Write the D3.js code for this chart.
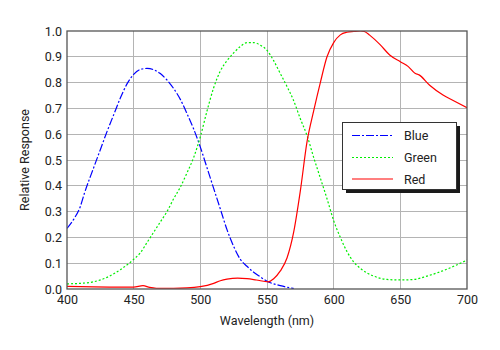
<!DOCTYPE html>
<html><head><meta charset="utf-8">
<script src="https://cdn.jsdelivr.net/npm/d3@7"></script>
<style>body{margin:0;background:#fff}svg{display:block;font-family:Roboto,"Liberation Sans",sans-serif}</style>
</head><body><svg id="c" width="500" height="350"></svg>
<script>
const xTicks = [400,450,500,550,600,650,700];
const yTicks = [0.0,0.1,0.2,0.3,0.4,0.5,0.6,0.7,0.8,0.9,1.0];
const blueWl = [400,405,410,413,420,425,430,435,440,445,450,455,460,465,470,475,480,485,490,495,500,505,510,515,520,525,530,535,540,545,550,555,560,565,570];
const blueVal = [0.235,0.27,0.32,0.37,0.47,0.54,0.61,0.675,0.74,0.795,0.832,0.851,0.855,0.85,0.835,0.81,0.777,0.735,0.68,0.62,0.55,0.47,0.39,0.31,0.23,0.165,0.115,0.088,0.065,0.047,0.03,0.02,0.013,0.007,0.002];
const greenWl = [400,410,420,430,440,450,455,460,465,470,475,480,485,490,495,500,505,510,515,520,525,530,535,540,545,550,555,560,565,570,575,580,585,590,595,600,605,610,615,620,630,640,650,660,670,680,690,700];
const greenVal = [0.02,0.022,0.028,0.045,0.075,0.115,0.14,0.18,0.22,0.26,0.3,0.35,0.395,0.45,0.51,0.59,0.69,0.78,0.845,0.885,0.915,0.94,0.955,0.955,0.945,0.925,0.885,0.835,0.785,0.73,0.66,0.595,0.51,0.43,0.35,0.265,0.2,0.145,0.105,0.08,0.05,0.037,0.035,0.037,0.05,0.067,0.088,0.112];
const redWl = [400,420,440,450,457,462,467,480,490,500,510,515,520,528,535,542,551,555,560,565,570,575,580,585,590,595,600,605,610,615,620,623,627,635,642,650,656,661,664,672,682,690,700];
const redVal = [0.01,0.008,0.007,0.007,0.013,0.006,0.003,0.003,0.004,0.009,0.022,0.032,0.038,0.042,0.04,0.035,0.028,0.04,0.07,0.12,0.22,0.38,0.57,0.69,0.8,0.9,0.955,0.985,0.995,0.998,1.0,0.998,0.984,0.946,0.907,0.881,0.862,0.836,0.83,0.79,0.752,0.73,0.703];
const seriesNames = ["Blue","Green","Red"];

const svg = d3.select("#c");
const L=67,R=467,T=31,B=289;
const x = d3.scaleLinear().domain([400,700]).range([L,R]);
const y = d3.scaleLinear().domain([0,1]).range([B,T]);
const txt = "#222";

// grid
svg.append("g").selectAll("line").data(xTicks.slice(1,-1)).join("line")
  .attr("x1",d=>x(d)).attr("x2",d=>x(d)).attr("y1",T).attr("y2",B)
  .attr("stroke","#b4b4b4").attr("stroke-width",1).attr("shape-rendering","crispEdges");
svg.append("g").selectAll("line").data(yTicks.slice(1,-1)).join("line")
  .attr("x1",L).attr("x2",R).attr("y1",d=>y(d)).attr("y2",d=>y(d))
  .attr("stroke","#b4b4b4").attr("stroke-width",1).attr("shape-rendering","crispEdges");

// axes labels
const xa = svg.append("g").attr("transform",`translate(0,${B})`)
  .call(d3.axisBottom(x).tickValues(xTicks).tickSize(0).tickPadding(6).tickFormat(d3.format("d")));
xa.select(".domain").remove();
xa.selectAll("text").attr("font-size",12.5).attr("fill",txt).attr("font-family","Roboto,sans-serif");
const ya = svg.append("g").attr("transform",`translate(${L},0)`)
  .call(d3.axisLeft(y).tickValues(yTicks).tickSize(0).tickPadding(5).tickFormat(d3.format(".1f")));
ya.select(".domain").remove();
ya.selectAll("text").attr("font-size",12.5).attr("fill",txt).attr("font-family","Roboto,sans-serif");

// curves
const line = d3.line().x(d=>x(d[0])).y(d=>y(d[1])).curve(d3.curveMonotoneX);
const mk = (w,v)=>w.map((d,i)=>[d,v[i]]);
const styles = [
  {data:mk(blueWl,blueVal),color:"#0000ff",dash:"8,2,2,2"},
  {data:mk(greenWl,greenVal),color:"#00ee00",dash:"2,2"},
  {data:mk(redWl,redVal),color:"#ff0000",dash:null}
];
const clip = svg.append("clipPath").attr("id","cp").append("rect").attr("x",L).attr("y",T).attr("width",R-L).attr("height",B-T);
svg.append("g").attr("clip-path","url(#cp)").selectAll("path").data(styles).join("path")
  .attr("d",d=>line(d.data)).attr("fill","none").attr("stroke",d=>d.color)
  .attr("stroke-width",1.2).attr("stroke-dasharray",d=>d.dash);

// frame
svg.append("rect").attr("x",L).attr("y",T).attr("width",R-L).attr("height",B-T)
  .attr("fill","none").attr("stroke","#555").attr("stroke-width",1.3);

// titles
svg.append("text").attr("x",(L+R)/2).attr("y",325).attr("text-anchor","middle")
  .attr("font-size",12.5).attr("fill",txt).text("Wavelength (nm)");
svg.append("text").attr("transform","translate(29,160) rotate(-90)").attr("text-anchor","middle")
  .attr("font-size",12.5).attr("fill",txt).text("Relative Response");

// legend
const lg = svg.append("g");
lg.append("rect").attr("x",346).attr("y",126).attr("width",114).attr("height",67).attr("fill","#1a1a1a");
lg.append("rect").attr("x",342.5).attr("y",122.5).attr("width",114).attr("height",67).attr("fill","#fff").attr("stroke","#333").attr("stroke-width",1);
const ly = [135.5,157.5,179];
styles.forEach((s,i)=>{
  lg.append("line").attr("x1",352).attr("x2",393).attr("y1",ly[i]).attr("y2",ly[i])
    .attr("stroke",s.color).attr("stroke-width",1.2).attr("stroke-dasharray",s.dash);
  lg.append("text").attr("x",404).attr("y",ly[i]+4.5).attr("font-size",12.5).attr("fill",txt).text(seriesNames[i]);
});
</script></body></html>
